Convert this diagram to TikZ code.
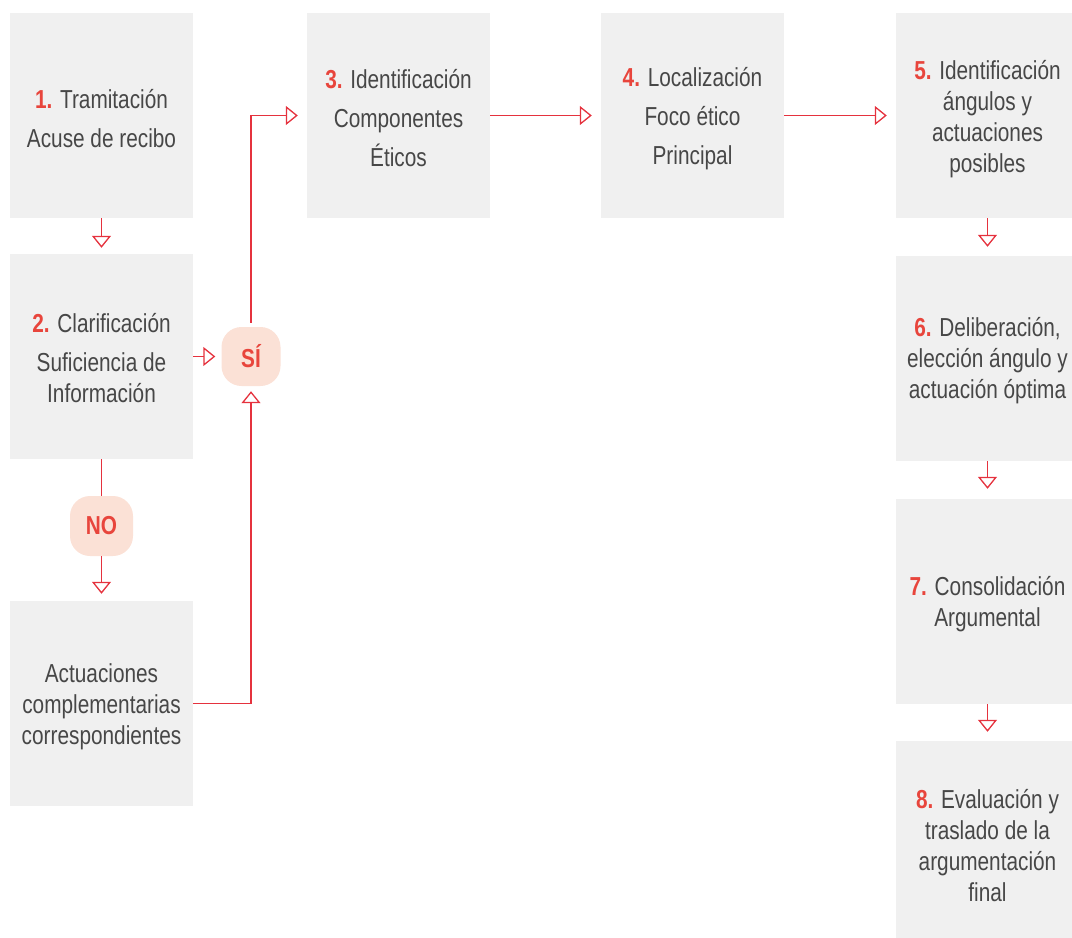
\documentclass[tikz,border=0pt]{standalone}
\usepackage{fontspec}
\setmainfont{Liberation Sans}[FakeStretch=0.8]
\usetikzlibrary{arrows.meta}
\definecolor{boxgray}{HTML}{F0F0F0}
\definecolor{txtgray}{HTML}{474747}
\definecolor{numred}{HTML}{E8453C}
\definecolor{linered}{HTML}{E5323E}
\definecolor{pillfill}{HTML}{FBE1D6}
\newcommand\stepnum[1]{{\color{numred}\bfseries #1}}
\begin{document}
\begin{tikzpicture}[x=1pt,y=-1pt,
  stepbox/.style={fill=boxgray, minimum width=183pt, minimum height=205pt, inner sep=0pt},
  steptext/.style={align=center, text=txtgray, inner sep=0pt, font=\fontsize{26}{31}\selectfont},
  pill/.style={fill=pillfill, rounded corners=20pt, inner sep=0pt, text=numred,
    font=\fontsize{26}{31}\selectfont\bfseries},
  link/.style={draw=linered, line width=1.3pt},
  arr/.style={link, -{Triangle[open, length=12pt, width=19pt]}}
]
\useasboundingbox (0,0) rectangle (1072,938);
% boxes
\node[stepbox] (b1) at (101.5,115.5) {};
\node[stepbox] (b2) at (101.5,356.5) {};
\node[stepbox] (ba) at (101.5,703.5) {};
\node[stepbox] (b3) at (398.5,115.5) {};
\node[stepbox] (b4) at (692.5,115.5) {};
\node[stepbox] (b5) at (987.5,115.5) {};
\node[stepbox] (b6) at (987.5,358.5) {};
\node[stepbox] (b7) at (987.5,601.5) {};
\node[stepbox] (b8) at (987.5,843.5) {};
% texts
\node[steptext] (t1) at ([yshift=-3pt]b1.center) {\stepnum{1.} Tramitación\\[8pt]Acuse de recibo};
\node[steptext] (t2) at ([yshift=-2pt]b2.center) {\stepnum{2.} Clarificación\\[8pt]Suficiencia de\\Información};
\node[steptext] (ta) at ([yshift=-3pt]ba.center) {Actuaciones\\complementarias\\correspondientes};
\node[steptext] (t3) at ([yshift=-3pt]b3.center) {\stepnum{3.} Identificación\\[8pt]Componentes\\[8pt]Éticos};
\node[steptext] (t4) at ([yshift=-3pt]b4.center) {\stepnum{4.} Localización\\[8pt]Foco ético\\[8pt]Principal};
\node[steptext] (t5) at ([yshift=-4pt]b5.center) {\stepnum{5.} Identificación\\ángulos y\\actuaciones\\posibles};
\node[steptext] (t6) at ([yshift=-2pt]b6.center) {\stepnum{6.} Deliberación,\\elección ángulo y\\actuación óptima};
\node[steptext] (t7) at ([yshift=-3pt]b7.center) {\stepnum{7.} Consolidación\\Argumental};
\node[steptext] (t8) at ([yshift=-2pt]b8.center) {\stepnum{8.} Evaluación y\\traslado de la\\argumentación\\final};
% pills
\node[pill, minimum width=59pt, minimum height=59pt] (si) at (251,356.5) {SÍ};
\node[pill, minimum width=63pt, minimum height=60pt] (no) at (101.5,526) {NO};
% connectors
\draw[arr, shorten >=6pt] (b1) -- (b2);
\draw[arr, shorten >=6pt] (b2) -- (si);
\draw[link] (b2) -- (no);
\draw[arr, shorten >=7pt] (no) -- (ba);
\draw[arr, shorten <=4pt, shorten >=9pt] (si.north) |- (b3.west);
\draw[arr, shorten >=5pt] (ba.east) -| (si.south);
\draw[arr, shorten >=9pt] (b3) -- (b4);
\draw[arr, shorten >=9pt] (b4) -- (b5.west);
\draw[arr, shorten >=9pt] (b5) -- (b6);
\draw[arr, shorten >=10pt] (b6) -- (b7);
\draw[arr, shorten >=9pt] (b7) -- (b8);
\end{tikzpicture}
\end{document}
